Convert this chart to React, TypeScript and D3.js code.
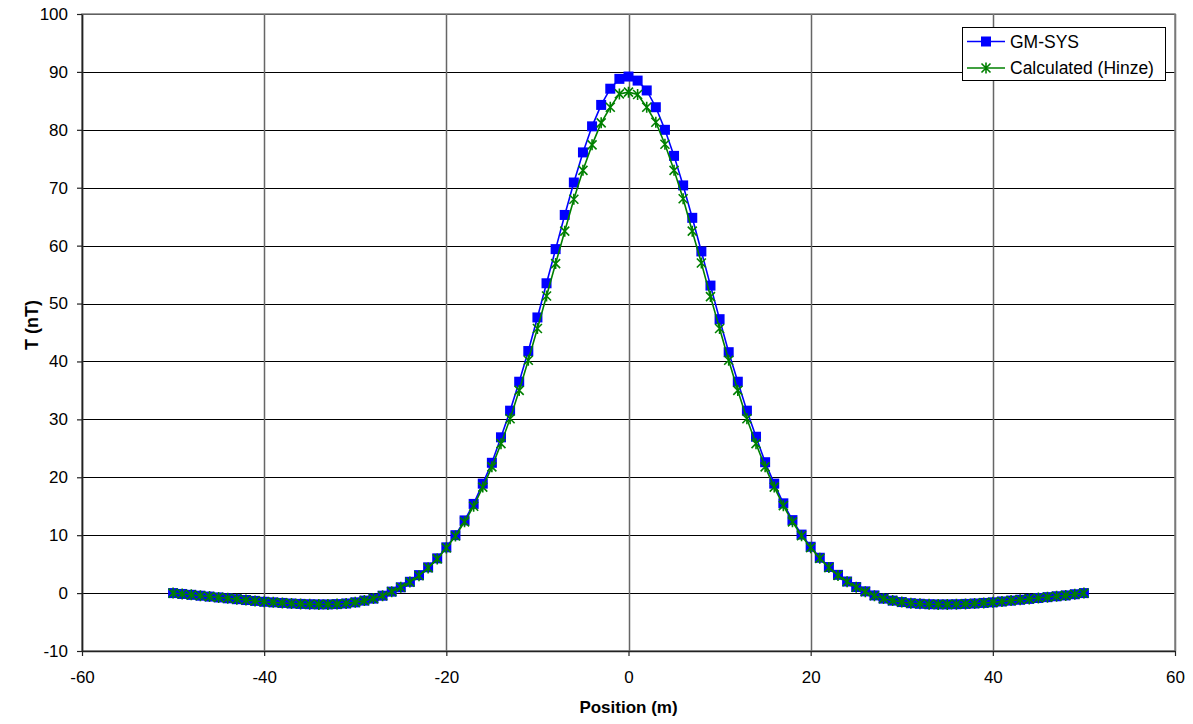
import { useEffect, useRef } from "react";
import * as d3 from "d3";

// positions along profile (m)
const positions = d3.range(-50, 51);

// GM-SYS model response (nT)
const gmSys = [
  0, -0.15, -0.3, -0.45, -0.6, -0.75, -0.9, -1.05, -1.2, -1.35,
  -1.5, -1.6, -1.7, -1.8, -1.87, -1.92, -1.95, -1.95, -1.9, -1.8,
  -1.6, -1.3, -0.95, -0.45, 0.25, 1.0, 1.95, 3.1, 4.45, 6.0,
  7.9, 10.0, 12.55, 15.4, 18.9, 22.5, 26.9, 31.5, 36.5, 41.8,
  47.6, 53.5, 59.4, 65.3, 70.9, 76.1, 80.6, 84.3, 87.1, 88.8,
  89.2,
  88.5, 86.8, 83.9, 80.0, 75.5, 70.4, 64.8, 59.0, 53.1, 47.3,
  41.6, 36.5, 31.5, 27.0, 22.6, 18.9, 15.5, 12.6, 10.1, 8.0,
  6.1, 4.5, 3.15, 2.0, 1.05, 0.3, -0.4, -0.95, -1.3, -1.55,
  -1.75, -1.85, -1.92, -1.95, -1.95, -1.92, -1.87, -1.8, -1.7, -1.6,
  -1.45, -1.3, -1.15, -1.0, -0.85, -0.7, -0.55, -0.4, -0.2, 0,
];

// Hinze calculated response (nT)
const hinze = [
  0, -0.15, -0.3, -0.45, -0.6, -0.75, -0.9, -1.05, -1.2, -1.35,
  -1.5, -1.6, -1.7, -1.8, -1.87, -1.92, -1.95, -1.95, -1.9, -1.8,
  -1.6, -1.3, -0.95, -0.45, 0.25, 1.0, 1.9, 3.0, 4.35, 5.9,
  7.8, 9.85, 12.3, 15.0, 18.3, 21.8, 25.8, 30.1, 35.0, 40.2,
  45.7, 51.3, 56.9, 62.5, 68.0, 73.0, 77.4, 81.2, 83.9, 86.2,
  86.5,
  86.1, 83.9, 81.3, 77.5, 73.0, 68.1, 62.5, 57.0, 51.2, 45.7,
  40.2, 35.0, 30.1, 25.8, 21.8, 18.3, 15.1, 12.3, 9.9, 7.85,
  6.0, 4.4, 3.05, 1.95, 1.0, 0.25, -0.45, -0.95, -1.3, -1.55,
  -1.75, -1.85, -1.92, -1.95, -1.95, -1.92, -1.87, -1.8, -1.7, -1.6,
  -1.45, -1.3, -1.15, -1.0, -0.85, -0.7, -0.55, -0.4, -0.2, 0,
];

const xTicks = [-60, -40, -20, 0, 20, 40, 60];
const yTicks = [-10, 0, 10, 20, 30, 40, 50, 60, 70, 80, 90, 100];
const seriesNames = ["GM-SYS", "Calculated (Hinze)"];

function App() {
  const svgRef = useRef(null);
  const width = 1193;
  const height = 724;

  useEffect(() => {
    const svg = d3.select(svgRef.current);
    svg.selectAll("*").remove();

    const margin = { top: 14, right: 18, bottom: 73, left: 82 };
    const innerWidth = width - margin.left - margin.right;
    const innerHeight = height - margin.top - margin.bottom;
    const font = "'Liberation Sans', Arial, sans-serif";

    const xScale = d3.scaleLinear().domain([-60, 60]).range([0, innerWidth]);
    const yScale = d3.scaleLinear().domain([-10, 100]).range([innerHeight, 0]);

    const g = svg
      .append("g")
      .attr("transform", `translate(${margin.left}, ${margin.top})`);

    // gridlines
    g.append("g")
      .selectAll("line")
      .data(yTicks)
      .enter()
      .append("line")
      .attr("x1", 0)
      .attr("x2", innerWidth)
      .attr("y1", (d) => Math.round(yScale(d)) + 0.5)
      .attr("y2", (d) => Math.round(yScale(d)) + 0.5)
      .attr("stroke", "#000")
      .attr("stroke-width", 1);

    g.append("g")
      .selectAll("line")
      .data(xTicks)
      .enter()
      .append("line")
      .attr("x1", (d) => Math.round(xScale(d)) + 0.5)
      .attr("x2", (d) => Math.round(xScale(d)) + 0.5)
      .attr("y1", 0)
      .attr("y2", innerHeight)
      .attr("stroke", "#666")
      .attr("stroke-width", 1.5);

    // plot border (top / right gray)
    g.append("rect")
      .attr("x", 0)
      .attr("y", 0)
      .attr("width", innerWidth)
      .attr("height", innerHeight)
      .attr("fill", "none")
      .attr("stroke", "#808080")
      .attr("stroke-width", 1.5);

    // axes
    const xAxis = d3
      .axisBottom(xScale)
      .tickValues(xTicks)
      .tickFormat((d) => String(d))
      .tickSize(5)
      .tickSizeOuter(0)
      .tickPadding(15);
    const yAxis = d3
      .axisLeft(yScale)
      .tickValues(yTicks)
      .tickFormat((d) => String(d))
      .tickSize(5)
      .tickSizeOuter(0)
      .tickPadding(9);

    const gx = g
      .append("g")
      .attr("transform", `translate(0, ${innerHeight})`)
      .call(xAxis);
    const gy = g.append("g").call(yAxis);

    [gx, gy].forEach((ax) => {
      ax.select(".domain").attr("stroke", "#222").attr("stroke-width", 1.5);
      ax.selectAll(".tick line").attr("stroke", "#222").attr("stroke-width", 1.2);
      ax.selectAll(".tick text")
        .attr("fill", "#000")
        .style("font-family", font)
        .style("font-size", "17px");
    });

    // axis titles
    svg
      .append("text")
      .attr("x", margin.left + innerWidth / 2)
      .attr("y", 713)
      .attr("text-anchor", "middle")
      .style("font-family", font)
      .style("font-size", "17px")
      .style("font-weight", "bold")
      .text("Position (m)");

    svg
      .append("text")
      .attr("transform", `translate(38, 325) rotate(-90)`)
      .attr("text-anchor", "middle")
      .style("font-family", font)
      .style("font-size", "18px")
      .style("font-weight", "bold")
      .text("T (nT)");

    const line = d3
      .line<number>()
      .x((d, i) => xScale(positions[i]))
      .y((d) => yScale(d));

    // GM-SYS series
    g.append("path")
      .datum(gmSys)
      .attr("d", line)
      .attr("fill", "none")
      .attr("stroke", "#0000ff")
      .attr("stroke-width", 1.6);

    g.append("g")
      .selectAll("rect")
      .data(gmSys)
      .enter()
      .append("rect")
      .attr("x", (d, i) => xScale(positions[i]) - 5)
      .attr("y", (d) => yScale(d) - 5)
      .attr("width", 10)
      .attr("height", 10)
      .attr("fill", "#0000ff");

    // Hinze series
    g.append("path")
      .datum(hinze)
      .attr("d", line)
      .attr("fill", "none")
      .attr("stroke", "#008000")
      .attr("stroke-width", 1.6);

    const star = (cx: number, cy: number, r: number) =>
      `M${cx - r},${cy - r}L${cx + r},${cy + r}M${cx - r},${cy + r}L${cx + r},${cy - r}M${cx},${cy - r - 1}L${cx},${cy + r + 1}`;

    g.append("g")
      .selectAll("path")
      .data(hinze)
      .enter()
      .append("path")
      .attr("d", (d, i) => star(xScale(positions[i]), yScale(d), 4.5))
      .attr("stroke", "#008000")
      .attr("stroke-width", 1.6)
      .attr("fill", "none");

    // legend
    const lg = svg.append("g").attr("transform", "translate(962, 27)");
    lg.append("rect")
      .attr("x", 0.5)
      .attr("y", 0.5)
      .attr("width", 203)
      .attr("height", 53)
      .attr("fill", "#fff")
      .attr("stroke", "#000")
      .attr("stroke-width", 1);

    const colors = ["#0000ff", "#008000"];
    seriesNames.forEach((name, i) => {
      const cy = 14.5 + i * 26.5;
      lg.append("line")
        .attr("x1", 5)
        .attr("x2", 43)
        .attr("y1", cy)
        .attr("y2", cy)
        .attr("stroke", colors[i])
        .attr("stroke-width", 1.6);
      if (i === 0) {
        lg.append("rect")
          .attr("x", 24 - 5)
          .attr("y", cy - 5)
          .attr("width", 10)
          .attr("height", 10)
          .attr("fill", colors[i]);
      } else {
        lg.append("path")
          .attr("d", star(24, cy, 4.5))
          .attr("stroke", colors[i])
          .attr("stroke-width", 1.6)
          .attr("fill", "none");
      }
      lg.append("text")
        .attr("x", 48)
        .attr("y", cy)
        .attr("dy", "0.35em")
        .style("font-family", font)
        .style("font-size", "17.5px")
        .text(name);
    });
  }, []);

  return (
    <svg
      ref={svgRef}
      width={width}
      height={height}
      style={{ position: "absolute", left: 0, top: 0, background: "#fff" }}
    />
  );
}

export default App;
